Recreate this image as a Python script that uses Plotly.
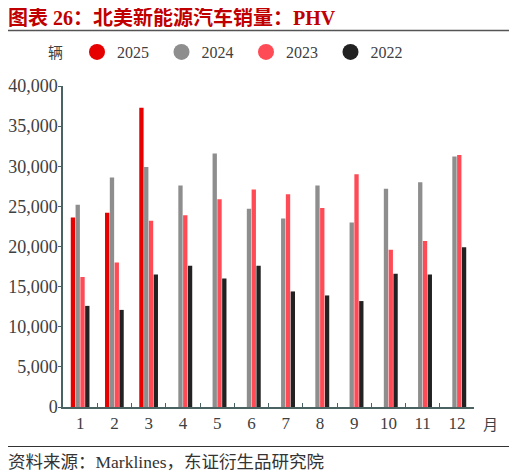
import plotly.graph_objects as go

months = ["1", "2", "3", "4", "5", "6", "7", "8", "9", "10", "11", "12"]
sales_2025 = [23600, 24200, 37300, None, None, None, None, None, None, None, None, None]
sales_2024 = [25200, 28600, 29900, 27600, 31600, 24700, 23500, 27600, 23000, 27200, 28000, 31200]
sales_2023 = [16200, 18000, 23200, 23900, 25900, 27100, 26500, 24800, 29000, 19600, 20700, 31400]
sales_2022 = [12600, 12100, 16500, 17600, 16000, 17600, 14400, 13900, 13200, 16600, 16500, 19900]

series = [
    ("2025", sales_2025, "#E60000"),
    ("2024", sales_2024, "#8E8E8E"),
    ("2023", sales_2023, "#FF4B55"),
    ("2022", sales_2022, "#222222"),
]

serif = "Liberation Serif, Noto Sans CJK SC"
axis_color = "#4A6262"
text_color = "#404040"

fig = go.Figure()
for name, vals, col in series:
    fig.add_trace(go.Bar(x=months, y=vals, name=name, marker_color=col,
                         marker_line_width=0, showlegend=False))
for name, vals, col in series:
    fig.add_trace(go.Scatter(x=[None], y=[None], mode="markers", name=name,
                             marker=dict(symbol="circle", size=17, color=col)))

# page body has an 8px margin; compensate so that the drawn picture lines up
OFF = 8
W, H = 517 - OFF, 475 - OFF
# plot area in window pixels: x 63..474, y 86..407
L = 63 - OFF
T = 86 - OFF
R = W - (474 - OFF)
B = H - (407 - OFF)
pw, ph = W - L - R, H - T - B

def px(x):
    return (x - OFF - L) / pw

def py(y):
    return (H - B - (y - OFF)) / ph

fig.update_layout(
    width=W, height=H,
    margin=dict(l=L, r=R, t=T, b=B, autoexpand=False),
    paper_bgcolor="white", plot_bgcolor="white",
    barmode="group", bargap=0.44, bargroupgap=0.1,
    font=dict(family=serif, size=17, color=text_color),
    legend=dict(orientation="h", x=px(77), xanchor="left", y=py(52), yanchor="middle",
                font=dict(family=serif, size=16, color=text_color),
                entrywidth=39.5, entrywidthmode="pixels", itemwidth=30,
                bgcolor="rgba(0,0,0,0)", borderwidth=0),
    xaxis=dict(type="category", showline=True, linecolor=axis_color, linewidth=1.5,
               ticks="inside", tickson="boundaries", ticklen=4, tickcolor=axis_color,
               showgrid=False, automargin=False,
               tickfont=dict(family=serif, size=17, color=text_color)),
    yaxis=dict(range=[0, 40000], dtick=5000, tickformat=",", showline=True,
               linecolor=axis_color, linewidth=1.5, ticks="outside", ticklen=3,
               tickcolor=axis_color, showgrid=False, zeroline=False, automargin=False,
               ticklabelstandoff=-3,
               tickfont=dict(family=serif, size=18, color=text_color)),
    shapes=[
        dict(type="line", xref="paper", yref="paper", x0=px(5), x1=px(512),
             y0=py(30.5), y1=py(30.5), line=dict(color="#555555", width=1.5)),
        dict(type="line", xref="paper", yref="paper", x0=px(5), x1=px(512),
             y0=py(446.5), y1=py(446.5), line=dict(color="#333333", width=1.2)),
    ],
    annotations=[
        dict(text="<b>图表 26：北美新能源汽车销量：PHV</b>", xref="paper", yref="paper",
             x=px(6), y=py(17), xanchor="left", yanchor="middle", showarrow=False,
             font=dict(family=serif, size=20, color="#C00000")),
        dict(text="辆", xref="paper", yref="paper", x=px(55), y=py(52),
             xanchor="center", yanchor="middle", showarrow=False,
             font=dict(family="Noto Sans CJK SC", size=15, color=text_color)),
        dict(text="月", xref="paper", yref="paper", x=px(490), y=py(424),
             xanchor="center", yanchor="middle", showarrow=False,
             font=dict(family="Noto Sans CJK SC", size=15, color=text_color)),
        dict(text="资料来源：Marklines，东证衍生品研究院", xref="paper", yref="paper",
             x=px(6), y=py(462), xanchor="left", yanchor="middle", showarrow=False,
             font=dict(family=serif, size=17.5, color="#333333")),
    ],
)

fig.write_html("out.html")
